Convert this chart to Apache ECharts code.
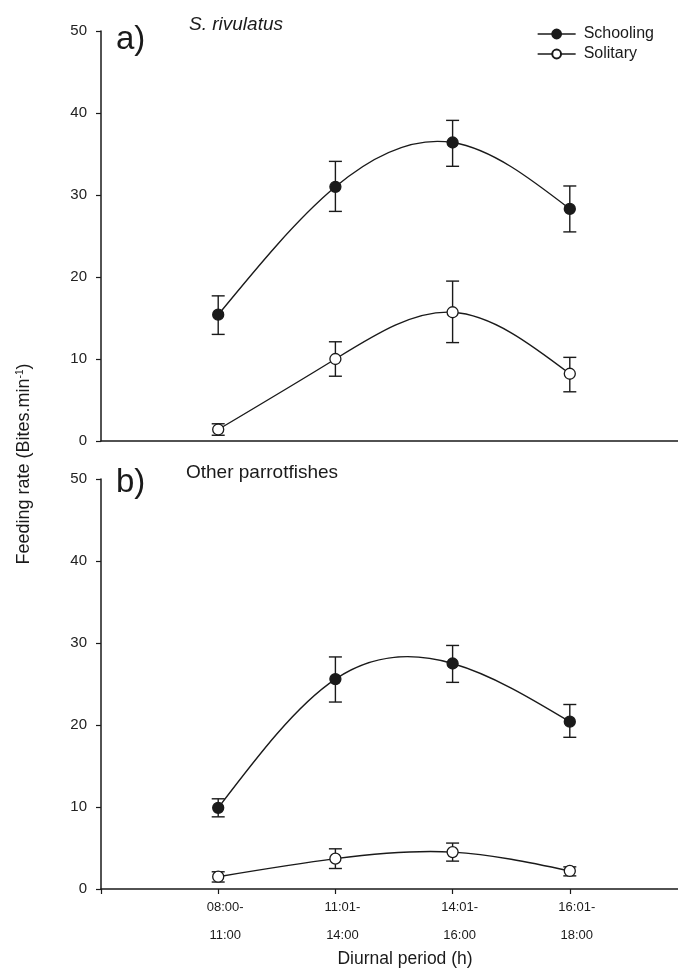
<!DOCTYPE html>
<html>
<head>
<meta charset="utf-8">
<script src="https://cdn.jsdelivr.net/npm/echarts@6/dist/echarts.min.js"></script>
<style>html,body{margin:0;padding:0;background:#fff}#c{width:678px;height:970px}</style>
</head>
<body>
<div id="c"></div>
<script>
// ---- data ----
var periods = ['08:00-\n11:00', '11:01-\n14:00', '14:01-\n16:00', '16:01-\n18:00'];
var periodX = [1, 2, 3, 4];
var yTicks = [0, 10, 20, 30, 40, 50];

// Panel a) S. rivulatus
var aSchooling = [15.4, 31.0, 36.4, 28.3];
var aSchoolingLow = [13.0, 28.0, 33.5, 25.5];
var aSchoolingHigh = [17.7, 34.1, 39.1, 31.1];
var aSolitary = [1.4, 10.0, 15.7, 8.2];
var aSolitaryLow = [0.7, 7.9, 12.0, 6.0];
var aSolitaryHigh = [2.1, 12.1, 19.5, 10.2];

// Panel b) Other parrotfishes
var bSchooling = [9.9, 25.6, 27.5, 20.4];
var bSchoolingLow = [8.8, 22.8, 25.2, 18.5];
var bSchoolingHigh = [11.0, 28.3, 29.7, 22.5];
var bSolitary = [1.5, 3.7, 4.5, 2.2];
var bSolitaryLow = [0.85, 2.5, 3.4, 1.6];
var bSolitaryHigh = [2.1, 4.9, 5.6, 2.7];

var FONT = 'Liberation Sans, Arial, sans-serif';
var INK = '#1a1a1a';

function pts(vals) { return vals.map(function (v, i) { return [periodX[i], v]; }); }
function errs(lo, hi) { return lo.map(function (v, i) { return [periodX[i], v, hi[i]]; }); }

function errorSeries(lo, hi, idx) {
  return {
    type: 'custom', xAxisIndex: idx, yAxisIndex: idx, z: 2, silent: true,
    data: errs(lo, hi),
    renderItem: function (params, api) {
      var x = api.value(0);
      var p1 = api.coord([x, api.value(1)]);
      var p2 = api.coord([x, api.value(2)]);
      var hw = 6.5;
      var st = { stroke: INK, lineWidth: 1.4 };
      return { type: 'group', children: [
        { type: 'line', shape: { x1: p1[0], y1: p1[1], x2: p2[0], y2: p2[1] }, style: st },
        { type: 'line', shape: { x1: p1[0] - hw, y1: p1[1], x2: p1[0] + hw, y2: p1[1] }, style: st },
        { type: 'line', shape: { x1: p2[0] - hw, y1: p2[1], x2: p2[0] + hw, y2: p2[1] }, style: st }
      ]};
    }
  };
}

// natural cubic spline drawn through the data points (pixel space via api.coord)
function splineSeries(vals, idx) {
  return {
    type: 'custom', xAxisIndex: idx, yAxisIndex: idx, z: 3, silent: true,
    data: pts(vals),
    renderItem: function (params, api) {
      if (params.dataIndex !== 0) return { type: 'group', children: [] };
      var n = params.dataInsideLength;
      var P = [];
      for (var k = 0; k < n; k++) P.push(api.coord([api.value(0, k), api.value(1, k)]));
      var h = [], M = new Array(n).fill(0);
      for (var k = 0; k < n - 1; k++) h.push(P[k + 1][0] - P[k][0]);
      if (n > 2) {
        var a = [], b = [], c = [], d = [];
        for (var k = 1; k < n - 1; k++) {
          a.push(h[k - 1]); b.push(2 * (h[k - 1] + h[k])); c.push(h[k]);
          d.push(6 * ((P[k + 1][1] - P[k][1]) / h[k] - (P[k][1] - P[k - 1][1]) / h[k - 1]));
        }
        var m = b.length;
        for (var k = 1; k < m; k++) { var w = a[k] / b[k - 1]; b[k] -= w * c[k - 1]; d[k] -= w * d[k - 1]; }
        var sol = new Array(m);
        sol[m - 1] = d[m - 1] / b[m - 1];
        for (var k = m - 2; k >= 0; k--) sol[k] = (d[k] - c[k] * sol[k + 1]) / b[k];
        for (var k = 0; k < m; k++) M[k + 1] = sol[k];
      }
      var path = 'M' + P[0][0] + ' ' + P[0][1];
      for (var k = 0; k < n - 1; k++) {
        var hk = h[k];
        var s0 = (P[k + 1][1] - P[k][1]) / hk - hk * (2 * M[k] + M[k + 1]) / 6;
        var s1 = (P[k + 1][1] - P[k][1]) / hk + hk * (M[k] + 2 * M[k + 1]) / 6;
        path += ' C' + (P[k][0] + hk / 3) + ' ' + (P[k][1] + s0 * hk / 3) + ' ' +
          (P[k + 1][0] - hk / 3) + ' ' + (P[k + 1][1] - s1 * hk / 3) + ' ' +
          P[k + 1][0] + ' ' + P[k + 1][1];
      }
      return { type: 'path', shape: { pathData: path }, style: { fill: null, stroke: INK, lineWidth: 1.4 } };
    }
  };
}

function markerSeries(name, vals, idx, filled) {
  return {
    name: name, type: 'line', xAxisIndex: idx, yAxisIndex: idx, z: 5,
    data: pts(vals),
    symbol: 'circle', symbolSize: 11, showSymbol: true,
    lineStyle: { color: INK, width: 1.4, opacity: 0 },
    itemStyle: { color: filled ? INK : '#fff', borderColor: INK, borderWidth: 1.3 },
    emphasis: { disabled: true }
  };
}

function xAxis(idx, showLabels) {
  return {
    type: 'value', gridIndex: idx, min: 0, max: 5, interval: 1,
    axisLine: { show: true, lineStyle: { color: INK, width: 1.5 } },
    axisTick: { show: showLabels, length: 5, lineStyle: { color: INK, width: 1.2 } },
    splitLine: { show: false },
    axisLabel: {
      show: showLabels, margin: 4, fontFamily: FONT, fontSize: 13, color: INK,
      lineHeight: 28, padding: [0, 0, 0, 14],
      formatter: function (v) { var i = periodX.indexOf(v); return i >= 0 ? periods[i] : ''; }
    },
    name: showLabels ? 'Diurnal period (h)' : '', nameLocation: 'middle', nameGap: 61,
    nameTextStyle: { fontFamily: FONT, fontSize: 17.5, color: INK, padding: [0, 0, 0, 22] }
  };
}

function yAxis(idx) {
  return {
    type: 'value', gridIndex: idx, min: yTicks[0], max: yTicks[yTicks.length - 1], interval: 10,
    axisLine: { show: true, lineStyle: { color: INK, width: 1.5 } },
    axisTick: { show: true, length: 5, lineStyle: { color: INK, width: 1.2 } },
    splitLine: { show: false },
    axisLabel: { margin: 14, fontFamily: FONT, fontSize: 15, color: '#222' }
  };
}

var chart = echarts.init(document.getElementById('c'), null, { renderer: 'canvas' });
chart.setOption({
  animation: false,
  backgroundColor: '#fff',
  grid: [
    { left: 101, top: 31, width: 586, height: 410, containLabel: false, outerBoundsMode: 'none' },
    { left: 101, top: 479, width: 586, height: 410, containLabel: false, outerBoundsMode: 'none' }
  ],
  xAxis: [xAxis(0, false), xAxis(1, true)],
  yAxis: [yAxis(0), yAxis(1)],
  title: [
    { text: 'a)', left: 116, top: 23, padding: 0, textStyle: { fontFamily: FONT, fontSize: 33, fontWeight: 'normal', color: INK } },
    { text: 'S. rivulatus', left: 189, top: 15, padding: 0, textStyle: { fontFamily: FONT, fontSize: 19, fontStyle: 'italic', fontWeight: 'normal', color: INK } },
    { text: 'b)', left: 116, top: 466, padding: 0, textStyle: { fontFamily: FONT, fontSize: 33, fontWeight: 'normal', color: INK } },
    { text: 'Other parrotfishes', left: 186, top: 463, padding: 0, textStyle: { fontFamily: FONT, fontSize: 19, fontWeight: 'normal', color: INK } }
  ],
  legend: {
    data: ['Schooling', 'Solitary'], orient: 'vertical', left: 537, top: 26, padding: 0,
    itemWidth: 38, itemHeight: 11, itemGap: 4,
    lineStyle: { color: INK, width: 1.3, opacity: 1 },
    textStyle: { fontFamily: FONT, fontSize: 16, lineHeight: 11, color: INK, padding: [0, 0, 0, 3] },
    selectedMode: false
  },
  graphic: [{
    type: 'text', x: 24, y: 464, rotation: Math.PI / 2,
    style: {
      text: '{n|Feeding rate (Bites.min}{s|-1}{n|)}',
      align: 'center', verticalAlign: 'middle',
      rich: {
        n: { fontFamily: FONT, fontSize: 18, fill: INK },
        s: { fontFamily: FONT, fontSize: 10, fill: INK, verticalAlign: 'top', padding: [0, 0, 8, 0] }
      }
    }
  }],
  series: [
    errorSeries(aSchoolingLow, aSchoolingHigh, 0),
    errorSeries(aSolitaryLow, aSolitaryHigh, 0),
    splineSeries(aSchooling, 0),
    splineSeries(aSolitary, 0),
    markerSeries('Schooling', aSchooling, 0, true),
    markerSeries('Solitary', aSolitary, 0, false),
    errorSeries(bSchoolingLow, bSchoolingHigh, 1),
    errorSeries(bSolitaryLow, bSolitaryHigh, 1),
    splineSeries(bSchooling, 1),
    splineSeries(bSolitary, 1),
    markerSeries('Schooling', bSchooling, 1, true),
    markerSeries('Solitary', bSolitary, 1, false)
  ]
});
</script>
</body>
</html>
